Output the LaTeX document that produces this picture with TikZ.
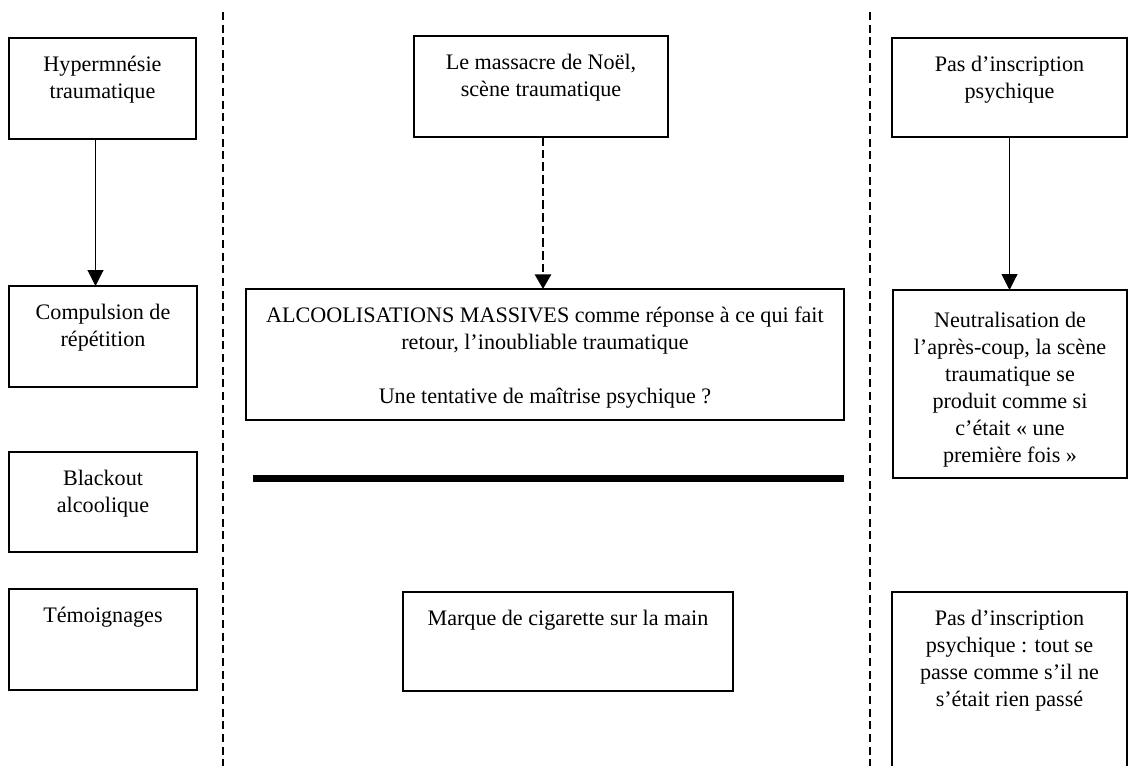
\documentclass[tikz,border=0pt]{standalone}
\usepackage{fontspec}
\setmainfont{Liberation Serif}
\usetikzlibrary{arrows.meta}
\newcommand{\bxtext}[4]{\parbox[c][#2][t]{#1}{\centering\rule{0pt}{#3}#4\par}}
\begin{document}
\begin{tikzpicture}[x=0.75pt,y=-0.75pt,
  bx/.style={draw, line width=0.8pt, inner sep=0pt, outer sep=0pt, anchor=north west,
    font=\fontsize{16.6pt}{20.25pt}\selectfont},
  sepline/.style={line width=1.2pt, dash pattern=on 6pt off 3.5pt},
  arr/.style={line width=0.8pt, -{Triangle[width=12pt,length=12pt]}},
  darr/.style={line width=2.2pt, dash pattern=on 6.5pt off 3pt, -{Triangle[width=12pt,length=11pt]}},
  thickline/.style={line width=5.25pt}]
\useasboundingbox (0,0) rectangle (1130,765);
\clip (0,0) rectangle (1130,765);

% separators
\coordinate (s1t) at (223,12);
\coordinate (s1b) at (223,770);
\coordinate (s2t) at (870,12);
\coordinate (s2b) at (870,770);
\draw[sepline] (s1t) -- (s1b);
\draw[sepline] (s2t) -- (s2b);

% left column
\node[bx] (hyp) at (9,38) {\bxtext{140.25pt}{75.75pt}{24.75pt}{Hypermnésie\\traumatique}};
\node[bx] (comp) at (9,286) {\bxtext{141pt}{75.75pt}{24.75pt}{Compulsion de\\répétition}};
\node[bx] (black) at (9,452) {\bxtext{141pt}{75pt}{24.75pt}{Blackout\\alcoolique}};
\node[bx] (temo) at (9,589) {\bxtext{141pt}{75.75pt}{24.75pt}{Témoignages}};

% centre column
\node[bx] (mass) at (414,36) {\bxtext{190.5pt}{75.75pt}{24.75pt}{Le massacre de Noël,\\scène traumatique}};
\node[bx] (alc) at (246,289) {\bxtext{448.5pt}{98.25pt}{24.75pt}{ALCOOLISATIONS MASSIVES comme réponse à ce qui fait\\retour, l’inoubliable traumatique\\\mbox{}\\Une tentative de maîtrise psychique~?}};
\node[bx] (marq) at (403,592) {\bxtext{247.5pt}{74.25pt}{24.75pt}{Marque de cigarette sur la main}};
\coordinate (tl) at (253,478);
\coordinate (tr) at (844,478);
\draw[thickline] (tl) -- (tr);

% right column
\node[bx] (pas1) at (892,38) {\bxtext{176.25pt}{74.25pt}{24.75pt}{Pas d’inscription\\psychique}};
\node[bx, line width=2pt] (neut) at (893,290) {\bxtext{175.5pt}{141pt}{27.75pt}{Neutralisation de\\l’après-coup, la scène\\traumatique se\\produit comme si\\c’était «~une\\première fois~»}};
\node[bx] (pas2) at (892,592) {\bxtext{176.25pt}{141pt}{24.75pt}{Pas d’inscription\\psychique~: tout se\\passe comme s’il ne\\s’était rien passé}};

% connectors
\draw[arr] ([xshift=-5.25pt]hyp.south) -- ([xshift=-5.25pt]hyp.south |- comp.north);
\draw[darr] ([xshift=1.5pt]mass.south) -- ([xshift=1.5pt]mass.south |- alc.north);
\draw[arr] (pas1.south) -- (pas1.south |- neut.north);
\end{tikzpicture}
\end{document}
